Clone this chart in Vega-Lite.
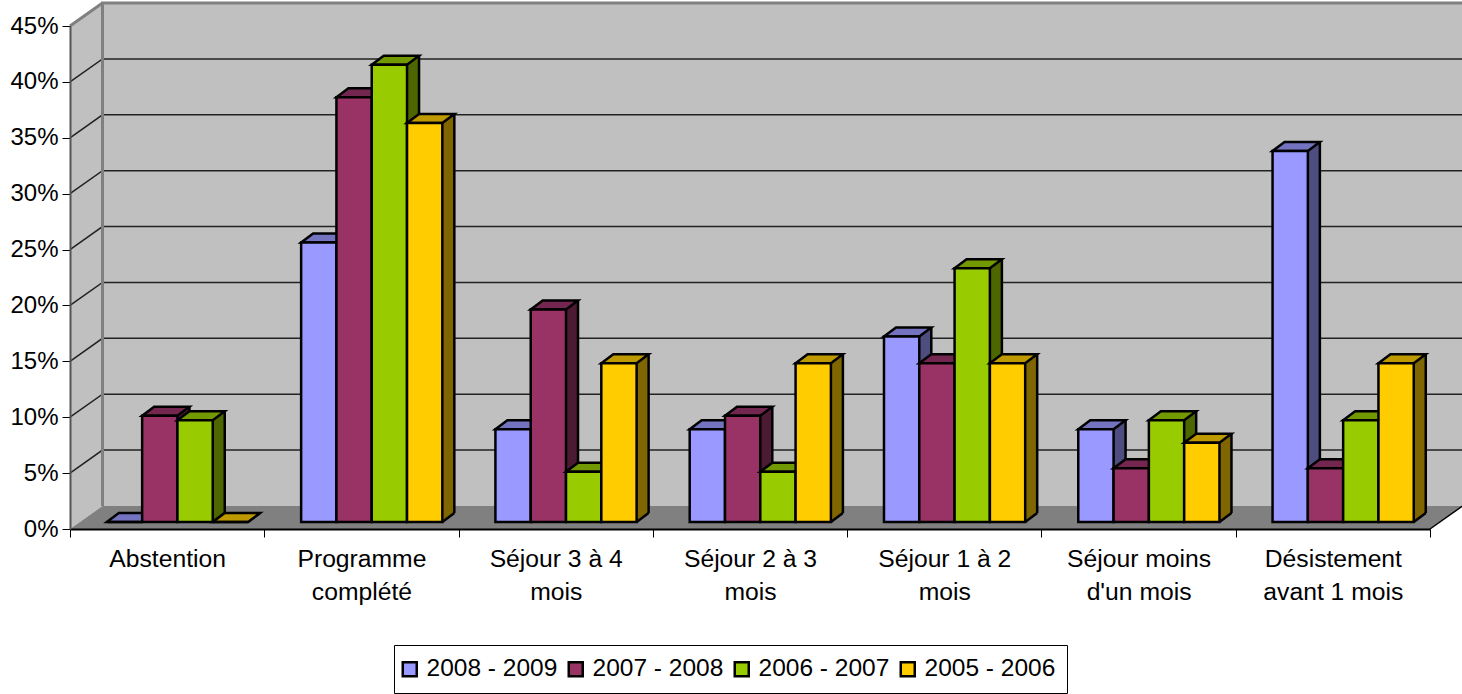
{"$schema":"https://vega.github.io/schema/vega-lite/v6.json","width":1360,"height":503,"autosize":{"type":"none"},"padding":{"left":70,"top":26,"right":32,"bottom":165},"background":"white","config":{"view":{"stroke":null},"font":"Liberation Sans"},
"datasets":{"bars":[
{"category":"Abstention","series":"2008 - 2009","value":0},{"category":"Abstention","series":"2007 - 2008","value":9.5},{"category":"Abstention","series":"2006 - 2007","value":9.1},{"category":"Abstention","series":"2005 - 2006","value":0},
{"category":"Programme complété","series":"2008 - 2009","value":25},{"category":"Programme complété","series":"2007 - 2008","value":38},{"category":"Programme complété","series":"2006 - 2007","value":40.9},{"category":"Programme complété","series":"2005 - 2006","value":35.7},
{"category":"Séjour 3 à 4 mois","series":"2008 - 2009","value":8.3},{"category":"Séjour 3 à 4 mois","series":"2007 - 2008","value":19},{"category":"Séjour 3 à 4 mois","series":"2006 - 2007","value":4.5},{"category":"Séjour 3 à 4 mois","series":"2005 - 2006","value":14.2},
{"category":"Séjour 2 à 3 mois","series":"2008 - 2009","value":8.3},{"category":"Séjour 2 à 3 mois","series":"2007 - 2008","value":9.5},{"category":"Séjour 2 à 3 mois","series":"2006 - 2007","value":4.5},{"category":"Séjour 2 à 3 mois","series":"2005 - 2006","value":14.2},
{"category":"Séjour 1 à 2 mois","series":"2008 - 2009","value":16.6},{"category":"Séjour 1 à 2 mois","series":"2007 - 2008","value":14.2},{"category":"Séjour 1 à 2 mois","series":"2006 - 2007","value":22.7},{"category":"Séjour 1 à 2 mois","series":"2005 - 2006","value":14.2},
{"category":"Séjour moins d'un mois","series":"2008 - 2009","value":8.3},{"category":"Séjour moins d'un mois","series":"2007 - 2008","value":4.8},{"category":"Séjour moins d'un mois","series":"2006 - 2007","value":9.1},{"category":"Séjour moins d'un mois","series":"2005 - 2006","value":7.1},
{"category":"Désistement avant 1 mois","series":"2008 - 2009","value":33.2},{"category":"Désistement avant 1 mois","series":"2007 - 2008","value":4.8},{"category":"Désistement avant 1 mois","series":"2006 - 2007","value":9.1},{"category":"Désistement avant 1 mois","series":"2005 - 2006","value":14.2}],
"ticks":[{"category":"Abstention","t":5},{"category":"Abstention","t":10},{"category":"Abstention","t":15},{"category":"Abstention","t":20},{"category":"Abstention","t":25},{"category":"Abstention","t":30},{"category":"Abstention","t":35},{"category":"Abstention","t":40}],
"frame":[{"category":"Abstention","a":0,"b":45}]},
"data":{"name":"bars"},
"encoding":{
"x":{"field":"category","type":"nominal","title":null,"sort":null,"scale":{"domain":["Abstention","Programme complété","Séjour 3 à 4 mois","Séjour 2 à 3 mois","Séjour 1 à 2 mois","Séjour moins d'un mois","Désistement avant 1 mois"],"paddingInner":0,"paddingOuter":0},"axis":{"zindex":1,"tickBand":"extent","tickSize":8,"tickColor":"#000000","domainColor":"#000000","domainWidth":2,"labelAngle":0,"labelFontSize":24.7,"labelColor":"#000000","labelPadding":9,"labelLimit":400,"labelBaseline":"top","labelLineHeight":33,"labelExpr":"{'Programme complété':['Programme','complété'],'Séjour 3 à 4 mois':['Séjour 3 à 4','mois'],'Séjour 2 à 3 mois':['Séjour 2 à 3','mois'],'Séjour 1 à 2 mois':['Séjour 1 à 2','mois'],'Séjour moins d\\'un mois':['Séjour moins','d\\'un mois'],'Désistement avant 1 mois':['Désistement','avant 1 mois']}[datum.label] || datum.label"}},
"y":{"field":"value","type":"quantitative","title":null,"scale":{"domain":[0,45],"nice":false},"axis":{"zindex":1,"values":[0,5,10,15,20,25,30,35,40,45],"labelExpr":"datum.value + '%'","grid":false,"tickSize":8,"tickColor":"#000000","domainColor":"#555555","domainWidth":2,"labelFontSize":24,"labelColor":"#000000","labelPadding":4}}},
"layer":[
{"data":{"name":"frame"},"mark":{"type":"point","filled":true,"size":4,"opacity":1,"fill":"#c0c0c0","shape":"M-97.14 0 L-64.64 -23 L-64.64 -526 L-97.14 -503 Z"},"encoding":{"y":{"field":"a","type":"quantitative"}}},
{"data":{"name":"frame"},"mark":{"type":"point","filled":true,"size":4,"opacity":1,"fill":"#c0c0c0","shape":"M-64.64 -23 L-64.64 -526 L1295.36 -526 L1295.36 -23 Z"},"encoding":{"y":{"field":"a","type":"quantitative"}}},
{"data":{"name":"frame"},"mark":{"type":"point","filled":true,"size":4,"opacity":1,"fill":"#808080","shape":"M-97.14 0 L1262.86 0 L1295.36 -23 L-64.64 -23 Z"},"encoding":{"y":{"field":"a","type":"quantitative"}}},
{"data":{"name":"ticks"},"mark":{"type":"point","filled":false,"size":4,"opacity":1,"stroke":"#222222","strokeWidth":1.5,"shape":"M-97.14 0 L-64.64 -23 L1295.36 -23"},"encoding":{"y":{"field":"t","type":"quantitative"}}},
{"data":{"name":"frame"},"mark":{"type":"point","filled":false,"size":4,"opacity":1,"stroke":"#808080","strokeWidth":3,"shape":"M-64.64 -23 L-64.64 -526 L1295.36 -526 M-97.14 -503 L-64.64 -526"},"encoding":{"y":{"field":"a","type":"quantitative"}}},
{"data":{"name":"frame"},"mark":{"type":"point","filled":false,"size":4,"opacity":1,"stroke":"#000000","strokeWidth":1.5,"shape":"M1262.86 0 L1295.36 -23"},"encoding":{"y":{"field":"a","type":"quantitative"}}},
{"transform":[{"filter":"datum.series==='2008 - 2009'"}],"layer":[
{"mark":{"type":"bar","width":12,"xOffset":-18.99,"yOffset":-16,"y2Offset":-16,"fill":"#4d4d80"},"encoding":{"y2":{"datum":0}}},
{"mark":{"type":"point","filled":true,"size":4,"opacity":1,"xOffset":-42.65,"yOffset":-7,"fill":"#4d4d80","shape":"M17.65 0 L29.65 -9 L17.65 -9 Z"},"encoding":{"y":{"datum":0}}},
{"mark":{"type":"point","filled":false,"size":4,"opacity":1,"xOffset":-42.65,"yOffset":-7,"stroke":"#000000","strokeWidth":2.5,"shape":"M17.65 0 L29.65 -9"},"encoding":{"y":{"datum":0}}},
{"mark":{"type":"rule","xOffset":-12.99,"yOffset":-16,"y2Offset":-16,"stroke":"#000000","strokeWidth":2.5},"encoding":{"y2":{"datum":0}}},
{"mark":{"type":"point","filled":true,"size":4,"opacity":1,"xOffset":-42.65,"yOffset":-7,"fill":"#7373bf","stroke":"#000000","strokeWidth":2.5,"shape":"M-17.65 0 L17.65 0 L29.65 -9 L-5.65 -9 Z"}},
{"mark":{"type":"bar","width":35.3,"xOffset":-42.65,"yOffset":-7,"y2Offset":-7,"stroke":"#000000","strokeWidth":2.5},"encoding":{"y2":{"datum":0},"color":{"field":"series","type":"nominal","title":null,"scale":{"domain":["2008 - 2009","2007 - 2008","2006 - 2007","2005 - 2006"],"range":["#9999ff","#993366","#99cc00","#ffcc00"]},"legend":{"orient":"none","legendX":324,"legendY":619,"direction":"horizontal","strokeColor":"#000000","fillColor":"#ffffff","padding":11.5,"labelFontSize":24.5,"labelColor":"#000000","labelOffset":4.5,"columnPadding":6,"symbolType":"square","symbolSize":196,"symbolOffset":-8,"symbolStrokeColor":"#000000","symbolStrokeWidth":2.5,"labelLimit":300,"columns":4}}}}]},
{"transform":[{"filter":"datum.series==='2007 - 2008'"}],"layer":[
{"mark":{"type":"bar","width":12,"xOffset":16.3,"yOffset":-16,"y2Offset":-16,"fill":"#4d1a33"},"encoding":{"y2":{"datum":0}}},
{"mark":{"type":"point","filled":true,"size":4,"opacity":1,"xOffset":-7.35,"yOffset":-7,"fill":"#4d1a33","shape":"M17.65 0 L29.65 -9 L17.65 -9 Z"},"encoding":{"y":{"datum":0}}},
{"mark":{"type":"point","filled":false,"size":4,"opacity":1,"xOffset":-7.35,"yOffset":-7,"stroke":"#000000","strokeWidth":2.5,"shape":"M17.65 0 L29.65 -9"},"encoding":{"y":{"datum":0}}},
{"mark":{"type":"rule","xOffset":22.3,"yOffset":-16,"y2Offset":-16,"stroke":"#000000","strokeWidth":2.5},"encoding":{"y2":{"datum":0}}},
{"mark":{"type":"point","filled":true,"size":4,"opacity":1,"xOffset":-7.35,"yOffset":-7,"fill":"#732650","stroke":"#000000","strokeWidth":2.5,"shape":"M-17.65 0 L17.65 0 L29.65 -9 L-5.65 -9 Z"}},
{"mark":{"type":"bar","width":35.3,"xOffset":-7.35,"yOffset":-7,"y2Offset":-7,"stroke":"#000000","strokeWidth":2.5},"encoding":{"y2":{"datum":0},"color":{"field":"series","type":"nominal"}}}]},
{"transform":[{"filter":"datum.series==='2006 - 2007'"}],"layer":[
{"mark":{"type":"bar","width":12,"xOffset":51.6,"yOffset":-16,"y2Offset":-16,"fill":"#4d6600"},"encoding":{"y2":{"datum":0}}},
{"mark":{"type":"point","filled":true,"size":4,"opacity":1,"xOffset":27.95,"yOffset":-7,"fill":"#4d6600","shape":"M17.65 0 L29.65 -9 L17.65 -9 Z"},"encoding":{"y":{"datum":0}}},
{"mark":{"type":"point","filled":false,"size":4,"opacity":1,"xOffset":27.95,"yOffset":-7,"stroke":"#000000","strokeWidth":2.5,"shape":"M17.65 0 L29.65 -9"},"encoding":{"y":{"datum":0}}},
{"mark":{"type":"rule","xOffset":57.6,"yOffset":-16,"y2Offset":-16,"stroke":"#000000","strokeWidth":2.5},"encoding":{"y2":{"datum":0}}},
{"mark":{"type":"point","filled":true,"size":4,"opacity":1,"xOffset":27.95,"yOffset":-7,"fill":"#739900","stroke":"#000000","strokeWidth":2.5,"shape":"M-17.65 0 L17.65 0 L29.65 -9 L-5.65 -9 Z"}},
{"mark":{"type":"bar","width":35.3,"xOffset":27.95,"yOffset":-7,"y2Offset":-7,"stroke":"#000000","strokeWidth":2.5},"encoding":{"y2":{"datum":0},"color":{"field":"series","type":"nominal"}}}]},
{"transform":[{"filter":"datum.series==='2005 - 2006'"}],"layer":[
{"mark":{"type":"bar","width":12,"xOffset":86.9,"yOffset":-16,"y2Offset":-16,"fill":"#806600"},"encoding":{"y2":{"datum":0}}},
{"mark":{"type":"point","filled":true,"size":4,"opacity":1,"xOffset":63.25,"yOffset":-7,"fill":"#806600","shape":"M17.65 0 L29.65 -9 L17.65 -9 Z"},"encoding":{"y":{"datum":0}}},
{"mark":{"type":"point","filled":false,"size":4,"opacity":1,"xOffset":63.25,"yOffset":-7,"stroke":"#000000","strokeWidth":2.5,"shape":"M17.65 0 L29.65 -9"},"encoding":{"y":{"datum":0}}},
{"mark":{"type":"rule","xOffset":92.9,"yOffset":-16,"y2Offset":-16,"stroke":"#000000","strokeWidth":2.5},"encoding":{"y2":{"datum":0}}},
{"mark":{"type":"point","filled":true,"size":4,"opacity":1,"xOffset":63.25,"yOffset":-7,"fill":"#bf9900","stroke":"#000000","strokeWidth":2.5,"shape":"M-17.65 0 L17.65 0 L29.65 -9 L-5.65 -9 Z"}},
{"mark":{"type":"bar","width":35.3,"xOffset":63.25,"yOffset":-7,"y2Offset":-7,"stroke":"#000000","strokeWidth":2.5},"encoding":{"y2":{"datum":0},"color":{"field":"series","type":"nominal"}}}]}
]}
